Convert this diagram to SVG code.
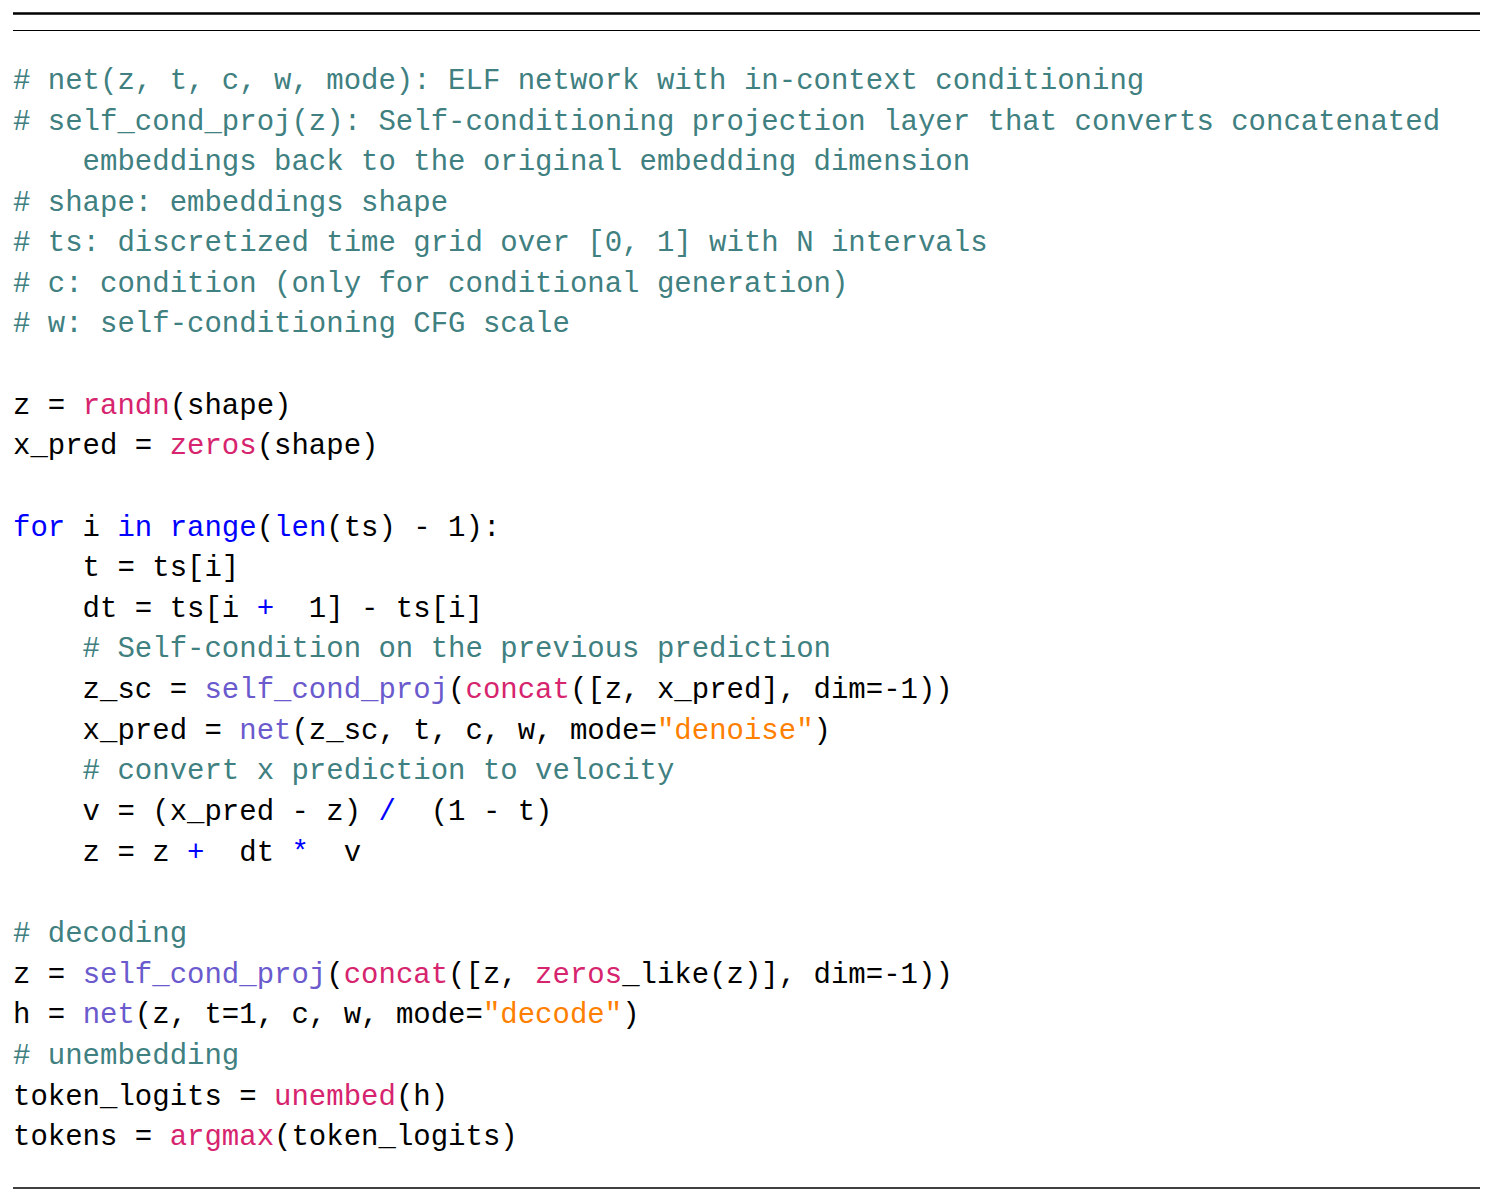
<svg xmlns="http://www.w3.org/2000/svg" width="1493" height="1201" viewBox="0 0 1493 1201">
<style>
text{font-family:"Liberation Mono","DejaVu Sans Mono",monospace;font-size:29px;fill:#000;white-space:pre}
.c{fill:#408080}.k{fill:#0000ff}.f{fill:#d6246e}.p{fill:#6a5acd}.s{fill:#ff7f00}
</style>
<rect width="1493" height="1201" fill="#fff"/>
<g id="rules" stroke="#000">
<line x1="13" y1="13.5" x2="1480" y2="13.5" stroke-width="2.5"/>
<line x1="13" y1="30.5" x2="1480" y2="30.5" stroke-width="1.2"/>
<line x1="13" y1="1188" x2="1480" y2="1188" stroke-width="1.5"/>
</g>
<g id="code" xml:space="preserve">
<text x="13" y="89" class="c"># net(z, t, c, w, mode): ELF network with in-context conditioning</text>
<text x="13" y="130" class="c"># self_cond_proj(z): Self-conditioning projection layer that converts concatenated</text>
<text x="13" y="170" class="c">    embeddings back to the original embedding dimension</text>
<text x="13" y="211" class="c"># shape: embeddings shape</text>
<text x="13" y="251" class="c"># ts: discretized time grid over [0, 1] with N intervals</text>
<text x="13" y="292" class="c"># c: condition (only for conditional generation)</text>
<text x="13" y="332" class="c"># w: self-conditioning CFG scale</text>
<text x="13" y="414">z = <tspan class="f">randn</tspan>(shape)</text>
<text x="13" y="454">x_pred = <tspan class="f">zeros</tspan>(shape)</text>
<text x="13" y="536"><tspan class="k">for</tspan> i <tspan class="k">in</tspan> <tspan class="k">range</tspan>(<tspan class="k">len</tspan>(ts) - 1):</text>
<text x="13" y="576">    t = ts[i]</text>
<text x="13" y="617">    dt = ts[i <tspan class="k">+</tspan>  1] - ts[i]</text>
<text x="13" y="657" class="c">    # Self-condition on the previous prediction</text>
<text x="13" y="698">    z_sc = <tspan class="p">self_cond_proj</tspan>(<tspan class="f">concat</tspan>([z, x_pred], dim=-1))</text>
<text x="13" y="739">    x_pred = <tspan class="p">net</tspan>(z_sc, t, c, w, mode=<tspan class="s">"denoise"</tspan>)</text>
<text x="13" y="779" class="c">    # convert x prediction to velocity</text>
<text x="13" y="820">    v = (x_pred - z) <tspan class="k">/</tspan>  (1 - t)</text>
<text x="13" y="861">    z = z <tspan class="k">+</tspan>  dt <tspan class="k">*</tspan>  v</text>
<text x="13" y="942" class="c"># decoding</text>
<text x="13" y="983">z = <tspan class="p">self_cond_proj</tspan>(<tspan class="f">concat</tspan>([z, <tspan class="f">zeros</tspan>_like(z)], dim=-1))</text>
<text x="13" y="1023">h = <tspan class="p">net</tspan>(z, t=1, c, w, mode=<tspan class="s">"decode"</tspan>)</text>
<text x="13" y="1064" class="c"># unembedding</text>
<text x="13" y="1105">token_logits = <tspan class="f">unembed</tspan>(h)</text>
<text x="13" y="1145">tokens = <tspan class="f">argmax</tspan>(token_logits)</text>
</g>
</svg>
